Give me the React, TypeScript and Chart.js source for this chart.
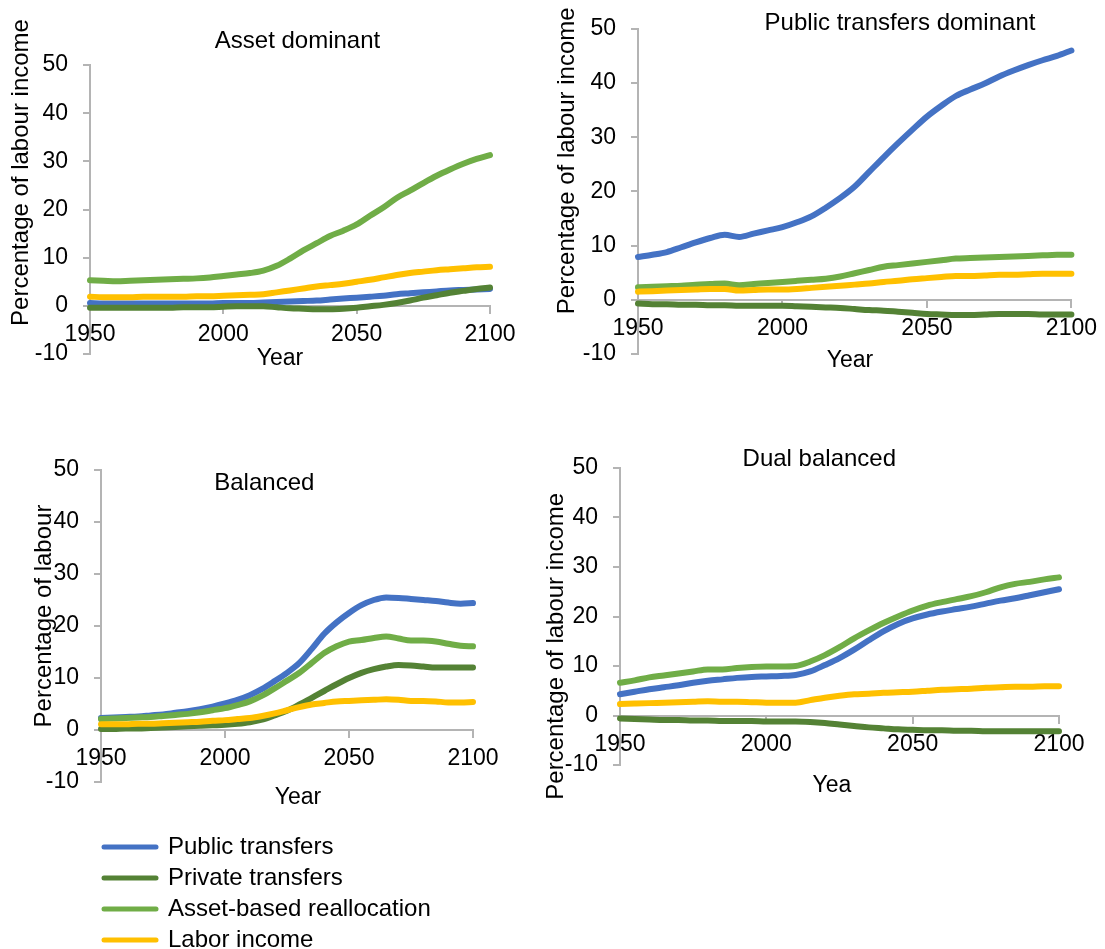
import React, { useEffect, useRef } from 'react';
import { Chart, registerables } from 'chart.js';

Chart.register(...registerables);
Chart.defaults.font.family = '"Liberation Sans", Arial, sans-serif';
Chart.defaults.color = '#000';

// ---------- data ----------
const YEARS = [1950, 1955, 1960, 1965, 1970, 1975, 1980, 1985, 1990, 1995, 2000, 2005, 2010, 2015, 2020, 2025, 2030, 2035, 2040, 2045, 2050, 2055, 2060, 2065, 2070, 2075, 2080, 2085, 2090, 2095, 2100];
const X_TICKS = [1950, 2000, 2050, 2100];
const Y_TICKS = [-10, 0, 10, 20, 30, 40, 50];
const SERIES_NAMES = ['Public transfers', 'Private transfers', 'Asset-based reallocation', 'Labor income'];
const SERIES_COLORS = ['#4472C4', '#548235', '#70AD47', '#FFC000'];
const PANEL_TITLES = ['Asset dominant', 'Public transfers dominant', 'Balanced', 'Dual balanced'];
const Y_TITLES = ['Percentage of labour income', 'Percentage of labour income', 'Percentage of labour', 'Percentage of labour income'];
const X_TITLES = ['Year', 'Year', 'Year', 'Yea'];

// Asset dominant
const ASSET_PUBLIC = [0.6, 0.5, 0.5, 0.5, 0.5, 0.5, 0.5, 0.5, 0.5, 0.5, 0.6, 0.6, 0.6, 0.7, 0.8, 0.9, 1.0, 1.1, 1.3, 1.5, 1.7, 1.9, 2.1, 2.4, 2.6, 2.8, 3.0, 3.2, 3.3, 3.4, 3.5];
const ASSET_PRIVATE = [-0.4, -0.4, -0.4, -0.4, -0.4, -0.4, -0.4, -0.3, -0.3, -0.3, -0.2, -0.1, -0.1, -0.1, -0.3, -0.5, -0.6, -0.7, -0.7, -0.6, -0.4, -0.1, 0.2, 0.6, 1.1, 1.7, 2.2, 2.7, 3.1, 3.5, 3.8];
const ASSET_ASSET = [5.3, 5.2, 5.1, 5.2, 5.3, 5.4, 5.5, 5.6, 5.7, 5.9, 6.2, 6.5, 6.8, 7.3, 8.3, 9.8, 11.5, 13.0, 14.5, 15.6, 16.9, 18.7, 20.4, 22.4, 23.9, 25.5, 27.0, 28.3, 29.5, 30.5, 31.3];
const ASSET_LABOR = [1.9, 1.8, 1.8, 1.8, 1.9, 1.9, 1.9, 1.9, 2.0, 2.0, 2.1, 2.2, 2.3, 2.4, 2.8, 3.2, 3.6, 4.0, 4.3, 4.6, 5.0, 5.4, 5.9, 6.4, 6.8, 7.1, 7.4, 7.6, 7.8, 8.0, 8.1];

// Public transfers dominant
const PUBDOM_PUBLIC = [7.9, 8.3, 8.8, 9.7, 10.6, 11.4, 12.0, 11.6, 12.2, 12.8, 13.4, 14.3, 15.4, 17.0, 18.8, 20.9, 23.6, 26.3, 28.9, 31.4, 33.8, 35.8, 37.6, 38.8, 39.9, 41.2, 42.3, 43.3, 44.2, 45.0, 46.0];
const PUBDOM_PRIVATE = [-0.7, -0.8, -0.8, -0.9, -0.9, -1.0, -1.0, -1.1, -1.1, -1.1, -1.1, -1.2, -1.3, -1.4, -1.5, -1.7, -1.9, -2.0, -2.2, -2.4, -2.6, -2.7, -2.8, -2.8, -2.7, -2.6, -2.6, -2.6, -2.7, -2.7, -2.7];
const PUBDOM_ASSET = [2.3, 2.4, 2.5, 2.6, 2.8, 2.9, 3.0, 2.7, 2.9, 3.1, 3.3, 3.5, 3.7, 3.9, 4.3, 4.9, 5.5, 6.1, 6.4, 6.7, 7.0, 7.3, 7.6, 7.7, 7.8, 7.9, 8.0, 8.1, 8.2, 8.3, 8.3];
const PUBDOM_LABOR = [1.5, 1.6, 1.7, 1.8, 1.9, 2.0, 2.0, 1.7, 1.8, 1.9, 1.9, 2.0, 2.2, 2.4, 2.6, 2.8, 3.0, 3.3, 3.5, 3.8, 4.0, 4.2, 4.4, 4.4, 4.5, 4.6, 4.6, 4.7, 4.8, 4.8, 4.8];

// Balanced
const BAL_PUBLIC = [2.3, 2.4, 2.5, 2.6, 2.8, 3.0, 3.3, 3.6, 4.0, 4.5, 5.1, 5.8, 6.7, 7.9, 9.4, 11.0, 12.9, 15.6, 18.5, 20.7, 22.5, 24.0, 25.0, 25.5, 25.4, 25.2, 25.0, 24.8, 24.5, 24.3, 24.4];
const BAL_PRIVATE = [0.2, 0.2, 0.3, 0.3, 0.4, 0.5, 0.6, 0.7, 0.8, 0.9, 1.0, 1.2, 1.5, 2.0, 2.8, 3.7, 4.9, 6.2, 7.5, 8.8, 10.0, 11.0, 11.7, 12.2, 12.5, 12.4, 12.2, 12.0, 12.0, 12.0, 12.0];
const BAL_ASSET = [2.1, 2.2, 2.3, 2.4, 2.5, 2.7, 2.9, 3.1, 3.4, 3.8, 4.2, 4.8, 5.5, 6.6, 8.0, 9.5, 11.0, 12.9, 14.8, 16.1, 17.0, 17.3, 17.7, 18.0, 17.6, 17.2, 17.2, 17.0, 16.6, 16.2, 16.1];
const BAL_LABOR = [1.1, 1.1, 1.1, 1.2, 1.2, 1.3, 1.4, 1.5, 1.6, 1.8, 1.9, 2.1, 2.3, 2.7, 3.2, 3.8, 4.4, 4.9, 5.2, 5.5, 5.6, 5.7, 5.8, 5.9, 5.8, 5.6, 5.6, 5.5, 5.3, 5.3, 5.4];

// Dual balanced
const DUAL_PUBLIC = [4.3, 4.8, 5.3, 5.7, 6.1, 6.6, 7.0, 7.3, 7.6, 7.8, 7.9, 8.0, 8.2, 8.9, 10.2, 11.6, 13.3, 15.2, 17.0, 18.5, 19.6, 20.4, 21.0, 21.5, 22.0, 22.6, 23.2, 23.7, 24.3, 24.9, 25.5];
const DUAL_PRIVATE = [-0.6, -0.7, -0.8, -0.9, -0.9, -1.0, -1.0, -1.1, -1.1, -1.1, -1.2, -1.2, -1.2, -1.3, -1.5, -1.8, -2.1, -2.4, -2.6, -2.8, -2.9, -3.0, -3.0, -3.1, -3.1, -3.2, -3.2, -3.2, -3.2, -3.2, -3.2];
const DUAL_ASSET = [6.6, 7.1, 7.7, 8.1, 8.5, 8.9, 9.3, 9.3, 9.6, 9.8, 9.9, 9.9, 10.0, 10.9, 12.2, 13.8, 15.6, 17.2, 18.7, 20.0, 21.2, 22.2, 22.9, 23.5, 24.1, 24.9, 25.9, 26.6, 27.0, 27.5, 27.9];
const DUAL_LABOR = [2.3, 2.4, 2.5, 2.6, 2.7, 2.8, 2.9, 2.8, 2.8, 2.7, 2.6, 2.6, 2.6, 3.1, 3.6, 4.0, 4.3, 4.4, 4.6, 4.7, 4.8, 5.0, 5.2, 5.3, 5.4, 5.6, 5.7, 5.8, 5.8, 5.9, 5.9];

const PANEL_SERIES = [
  [ASSET_PUBLIC, ASSET_PRIVATE, ASSET_ASSET, ASSET_LABOR],
  [PUBDOM_PUBLIC, PUBDOM_PRIVATE, PUBDOM_ASSET, PUBDOM_LABOR],
  [BAL_PUBLIC, BAL_PRIVATE, BAL_ASSET, BAL_LABOR],
  [DUAL_PUBLIC, DUAL_PRIVATE, DUAL_ASSET, DUAL_LABOR],
];

// ---------- layout / style ----------
const AXIS_COLOR = '#b4b4b4';
const Y_AXIS_W = 64;
const TICK_FONT = 23;
const TITLE_FONT = 24;
const FONT_FAMILY = '"Liberation Sans", Arial, sans-serif';

type Box = { left: number; top: number; width: number; height: number };
type Area = { left: number; top: number; right: number; bottom: number };
type Layout = {
  canvas: Box;
  area: Area;
  titlePos: [number, number];
  yTitlePos: [number, number];
  xTitlePos: [number, number];
};

const LAYOUTS: Layout[] = [
  { canvas: { left: 0, top: 0, width: 540, height: 384 }, area: { left: 90, top: 65, right: 490, bottom: 354 }, titlePos: [297.5, 47.5], yTitlePos: [27.7, 172.5], xTitlePos: [280, 365] },
  { canvas: { left: 550, top: 0, width: 555, height: 384 }, area: { left: 638, top: 26, right: 1076, bottom: 354 }, titlePos: [900, 29.5], yTitlePos: [574.2, 160.8], xTitlePos: [850, 367] },
  { canvas: { left: 0, top: 420, width: 540, height: 392 }, area: { left: 101, top: 470, right: 473, bottom: 782 }, titlePos: [264.3, 489.5], yTitlePos: [51.2, 616], xTitlePos: [298, 804] },
  { canvas: { left: 530, top: 420, width: 575, height: 395 }, area: { left: 620, top: 468, right: 1059, bottom: 765 }, titlePos: [819.3, 465.5], yTitlePos: [562.6, 646.3], xTitlePos: [832, 792] },
];

type TextItem = { text: string; x: number; y: number; size: number; rotate?: boolean };

function makeTextPlugin(items: TextItem[]) {
  return {
    id: 'panelText',
    afterDraw(chart: any) {
      const ctx = chart.ctx as CanvasRenderingContext2D;
      for (const t of items) {
        ctx.save();
        ctx.font = `${t.size}px ${FONT_FAMILY}`;
        ctx.fillStyle = '#000';
        ctx.textAlign = 'center';
        ctx.textBaseline = 'alphabetic';
        ctx.translate(t.x, t.y);
        if (t.rotate) ctx.rotate(-Math.PI / 2);
        ctx.fillText(t.text, 0, 0);
        ctx.restore();
      }
    },
  };
}

function Panel({ index }: { index: number }) {
  const ref = useRef<HTMLCanvasElement>(null);
  const lay = LAYOUTS[index];
  useEffect(() => {
    if (!ref.current) return;
    const { canvas, area } = lay;
    const padding = {
      left: area.left - canvas.left - Y_AXIS_W,
      top: area.top - canvas.top,
      right: canvas.left + canvas.width - area.right,
      bottom: canvas.top + canvas.height - area.bottom,
    };
    const texts: TextItem[] = [
      { text: PANEL_TITLES[index], x: lay.titlePos[0] - canvas.left, y: lay.titlePos[1] - canvas.top, size: TITLE_FONT },
      { text: Y_TITLES[index], x: lay.yTitlePos[0] - canvas.left, y: lay.yTitlePos[1] - canvas.top, size: TITLE_FONT, rotate: true },
      { text: X_TITLES[index], x: lay.xTitlePos[0] - canvas.left, y: lay.xTitlePos[1] - canvas.top, size: TICK_FONT },
    ];
    const series = PANEL_SERIES[index];
    const chart = new Chart(ref.current, {
      type: 'line',
      data: {
        labels: YEARS,
        datasets: series.map((vals, i) => ({
          label: SERIES_NAMES[i],
          data: vals,
          borderColor: SERIES_COLORS[i],
          backgroundColor: SERIES_COLORS[i],
          borderWidth: 6,
          borderCapStyle: 'round',
          borderJoinStyle: 'round',
          pointRadius: 0,
          cubicInterpolationMode: 'monotone',
          fill: false,
          clip: false,
          order: 4 - i,
        })),
      } as any,
      options: {
        responsive: false,
        animation: false,
        events: [],
        layout: { padding },
        plugins: { legend: { display: false }, title: { display: false }, tooltip: { enabled: false } },
        scales: {
          x: {
            type: 'linear',
            position: { y: 0 },
            min: 1950,
            max: 2100,
            afterBuildTicks: (s: any) => { s.ticks = X_TICKS.map((v) => ({ value: v })); },
            ticks: { font: { size: TICK_FONT }, color: '#000', padding: 8, maxRotation: 0, autoSkip: false, callback: (v: any) => String(v) },
            grid: { display: true, drawOnChartArea: false, drawTicks: true, tickLength: 7, color: AXIS_COLOR, lineWidth: 2 },
            border: { display: true, color: AXIS_COLOR, width: 2 },
          },
          y: {
            type: 'linear',
            min: -10,
            max: 50,
            afterBuildTicks: (s: any) => { s.ticks = Y_TICKS.map((v) => ({ value: v })); },
            afterFit: (s: any) => { s.width = Y_AXIS_W; },
            ticks: { font: { size: TICK_FONT }, color: '#000', padding: 15, callback: (v: any) => String(v) },
            grid: { display: true, drawOnChartArea: false, drawTicks: true, tickLength: 7, color: AXIS_COLOR, lineWidth: 2 },
            border: { display: true, color: AXIS_COLOR, width: 2 },
          },
        },
      } as any,
      plugins: [makeTextPlugin(texts)],
    });
    return () => chart.destroy();
  }, [index]);
  return (
    <canvas
      ref={ref}
      width={lay.canvas.width}
      height={lay.canvas.height}
      style={{ position: 'absolute', left: lay.canvas.left, top: lay.canvas.top, width: lay.canvas.width, height: lay.canvas.height }}
    />
  );
}

const LEGEND_BOX: Box = { left: 0, top: 800, width: 1000, height: 180 };

function Legend() {
  const ref = useRef<HTMLCanvasElement>(null);
  useEffect(() => {
    if (!ref.current) return;
    const chart = new Chart(ref.current, {
      type: 'line',
      data: {
        labels: [],
        datasets: SERIES_NAMES.map((name, i) => ({
          label: name,
          data: [],
          borderColor: SERIES_COLORS[i],
          backgroundColor: SERIES_COLORS[i],
          borderWidth: 5,
        })),
      },
      options: {
        responsive: false,
        animation: false,
        events: [],
        layout: { padding: { left: 97, top: 28, right: 0, bottom: 0 } },
        scales: { x: { display: false }, y: { display: false } },
        plugins: {
          tooltip: { enabled: false },
          legend: {
            display: true,
            position: 'left',
            align: 'start',
            labels: {
              usePointStyle: true,
              pointStyle: 'line',
              pointStyleWidth: 52,
              padding: 7,
              color: '#000',
              font: { size: 24 },
              generateLabels: (c: any) =>
                c.data.datasets.map((ds: any, i: number) => ({
                  text: ds.label,
                  strokeStyle: ds.borderColor,
                  fillStyle: ds.borderColor,
                  lineWidth: 5,
                  lineCap: 'round',
                  pointStyle: 'line',
                  hidden: false,
                  datasetIndex: i,
                  fontColor: '#000',
                })),
            },
          },
        },
      } as any,
    });
    return () => chart.destroy();
  }, []);
  return (
    <canvas
      ref={ref}
      width={LEGEND_BOX.width}
      height={LEGEND_BOX.height}
      style={{ position: 'absolute', left: LEGEND_BOX.left, top: LEGEND_BOX.top, width: LEGEND_BOX.width, height: LEGEND_BOX.height }}
    />
  );
}

export default function App() {
  return (
    <div style={{ position: 'absolute', left: 0, top: 0, width: 1105, height: 949, overflow: 'hidden', background: '#fff' }}>
      {[0, 1, 2, 3].map((i) => (
        <Panel key={i} index={i} />
      ))}
      <Legend />
    </div>
  );
}
